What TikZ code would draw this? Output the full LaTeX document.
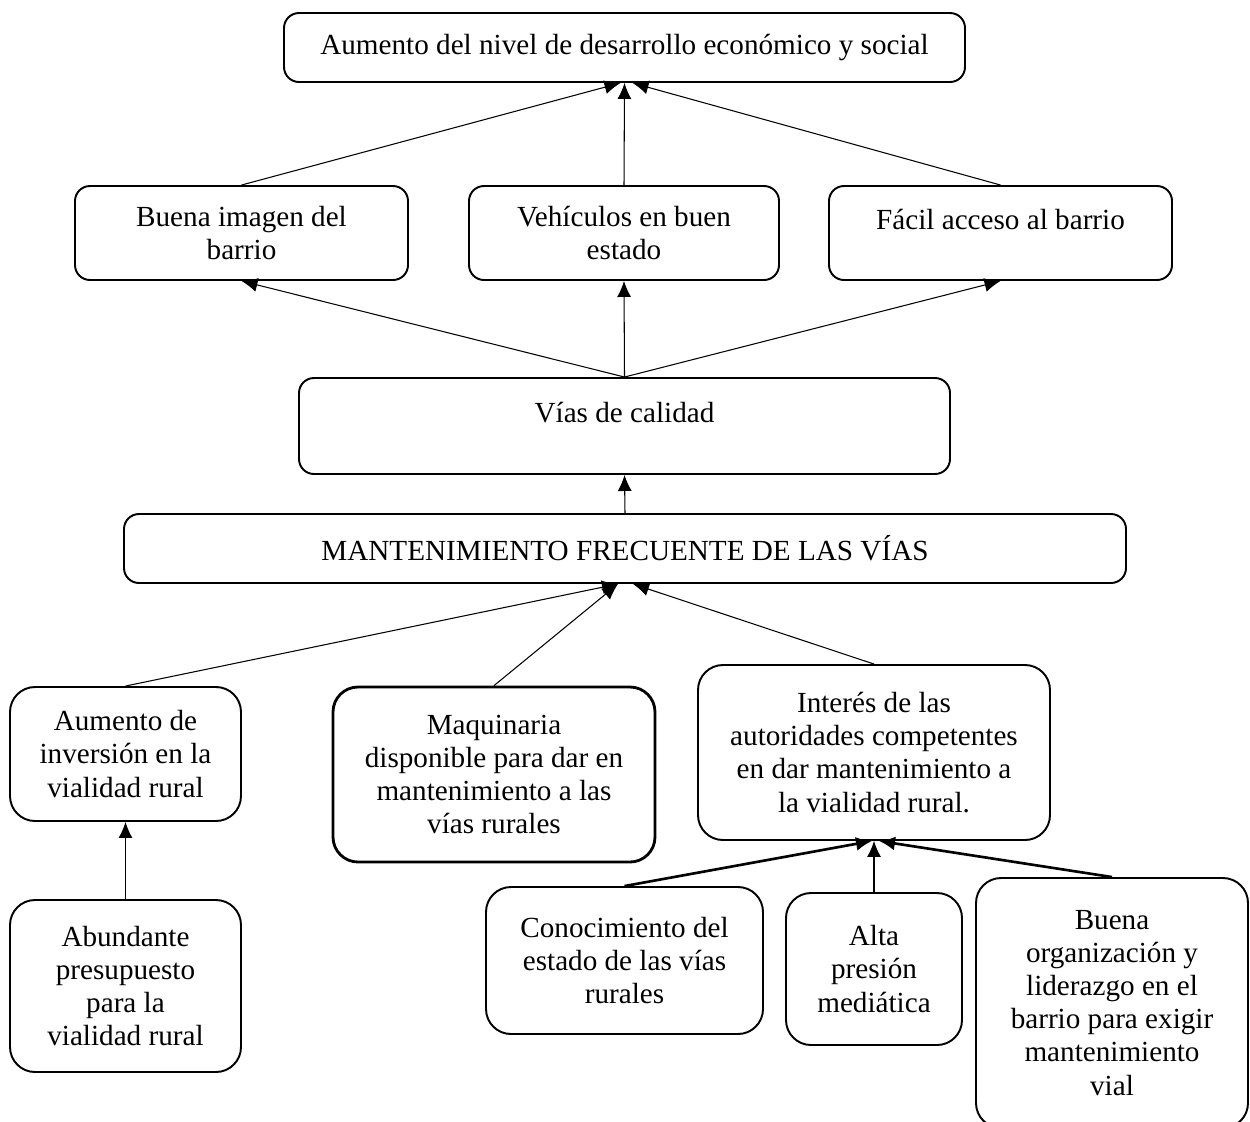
\documentclass[tikz,border=0pt]{standalone}
\usepackage{fontspec}
\setmainfont{Liberation Serif}
\usepackage{tikz}
\usetikzlibrary{shapes,arrows.meta}
\usetikzlibrary{positioning}

\begin{document}
\begin{tikzpicture}[
  caja/.style={draw,line width=1.1pt,rounded corners=0.3cm,align=center,font=\fontsize{16.6}{18.8}\selectfont},
  cajab/.style={caja,rounded corners=0.5cm},
  flecha/.style={-{Latex[length=0.32cm,width=0.28cm]},line width=0.6pt},
  gruesa/.style={flecha,line width=1.5pt}
]
\useasboundingbox (0,0) rectangle (25,-22.42);

\node[caja,minimum width=13.62cm,minimum height=1.38cm] (desarrollo) at (12.49,-0.95) {Aumento del nivel de desarrollo económico y social};

\node[caja,minimum width=6.66cm,minimum height=1.88cm] (imagen) at (4.83,-4.66) {Buena imagen del\\barrio};
\node[caja,minimum width=6.2cm,minimum height=1.88cm] (vehiculos) at (12.48,-4.66) {Vehículos en buen\\estado};
\node[caja,minimum width=6.86cm,minimum height=1.88cm,text depth=0.55cm] (acceso) at (20.01,-4.66) {Fácil acceso al barrio};

\node[caja,minimum width=13.02cm,minimum height=1.92cm,text depth=0.55cm] (vias) at (12.49,-8.52) {Vías de calidad};

\node[caja,minimum width=20.04cm,minimum height=1.38cm] (mant) at (12.5,-10.97) {MANTENIMIENTO FRECUENTE DE LAS VÍAS};

\node[cajab,minimum width=4.62cm,minimum height=2.68cm] (inversion) at (2.51,-15.08) {Aumento de\\inversión en la\\vialidad rural};
\node[cajab,line width=1.6pt,minimum width=6.44cm,minimum height=3.5cm] (maquinaria) at (9.88,-15.49) {Maquinaria\\disponible para dar en\\mantenimiento a las\\vías rurales};
\node[cajab,minimum width=7.04cm,minimum height=3.5cm] (interes) at (17.48,-15.05) {Interés de las\\autoridades competentes\\en dar mantenimiento a\\la vialidad rural.};

\node[cajab,minimum width=4.62cm,minimum height=3.44cm] (presupuesto) at (2.51,-19.72) {Abundante\\presupuesto\\para la\\vialidad rural};
\node[cajab,minimum width=5.54cm,minimum height=2.94cm] (conocimiento) at (12.49,-19.21) {Conocimiento del\\estado de las vías\\rurales};
\node[cajab,minimum width=3.52cm,minimum height=3.04cm] (presion) at (17.48,-19.38) {Alta\\presión\\mediática};
\node[cajab,minimum width=5.44cm,minimum height=5.0cm] (organizacion) at (22.24,-20.06) {Buena\\organización y\\liderazgo en el\\barrio para exigir\\mantenimiento\\vial};

\draw[flecha] (imagen.north) -- ([xshift=-0.08cm]desarrollo.south);
\draw[flecha] (vehiculos.north) -- (desarrollo.south);
\draw[flecha] (acceso.north) -- ([xshift=0.16cm]desarrollo.south);

\draw[flecha] (vias.north) -- (imagen.south);
\draw[flecha] (vias.north) -- (vehiculos.south);
\draw[flecha] (vias.north) -- (acceso.south);

\draw[flecha] (mant.north) -- (vias.south);

\draw[flecha] (inversion.north) -- ([xshift=-0.14cm]mant.south);
\draw[flecha] (maquinaria.north) -- ([xshift=-0.14cm]mant.south);
\draw[flecha] (interes.north) -- ([xshift=0.16cm]mant.south);

\draw[flecha] (presupuesto.north) -- (inversion.south);

\draw[gruesa] (conocimiento.north) -- ([xshift=-0.04cm]interes.south);
\draw[flecha] (presion.north) -- (interes.south);
\draw[gruesa] (organizacion.north) -- ([xshift=0.1cm]interes.south);

\end{tikzpicture}
\end{document}
